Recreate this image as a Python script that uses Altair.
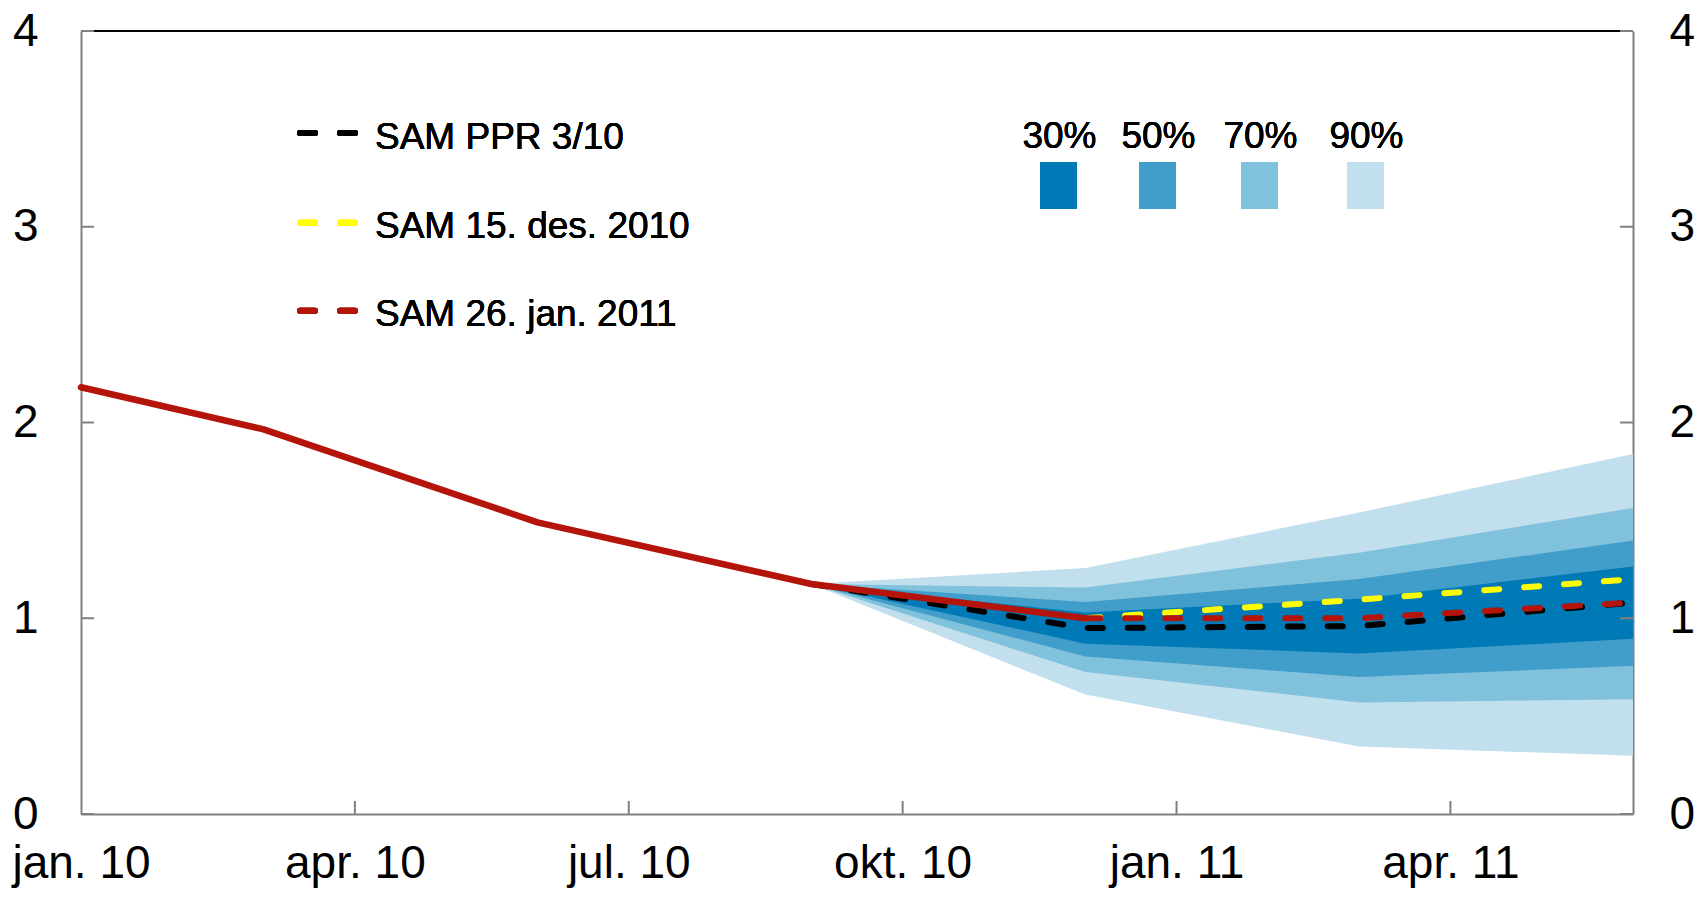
import altair as alt
import pandas as pd

FONT = "Liberation Sans"

# ---------------- data ----------------
x_tick_values = [0, 3, 6, 9, 12, 15]
x_tick_labels = ["jan. 10", "apr. 10", "jul. 10", "okt. 10", "jan. 11", "apr. 11"]
y_tick_values = [0, 1, 2, 3, 4]

hist_month = [0, 2, 5, 8, 11]
hist_value = [2.18, 1.965, 1.49, 1.175, 1.0]

ppr_month = [8, 11, 14, 17]
ppr_value = [1.175, 0.95, 0.96, 1.08]

des_month = [11, 14, 17]
des_value = [1.0, 1.095, 1.2]

jan_month = [11, 14, 17]
jan_value = [1.0, 1.0, 1.08]

fan_month = [8, 11, 14, 17]
fan_lo90 = [1.175, 0.61, 0.345, 0.297]
fan_lo70 = [1.175, 0.725, 0.57, 0.586]
fan_lo50 = [1.175, 0.805, 0.70, 0.757]
fan_lo30 = [1.175, 0.87, 0.82, 0.895]
fan_hi30 = [1.175, 1.03, 1.10, 1.264]
fan_hi50 = [1.175, 1.083, 1.20, 1.397]
fan_hi70 = [1.175, 1.157, 1.335, 1.563]
fan_hi90 = [1.175, 1.257, 1.54, 1.839]

band_labels = ["30%", "50%", "70%", "90%"]
band_colors = ["#007AB6", "#419DC9", "#80C1DB", "#C2DFEE"]

series_labels = ["SAM PPR 3/10", "SAM 15. des. 2010", "SAM 26. jan. 2011"]
series_colors = ["#000000", "#FFFF00", "#B4140A"]

# ---------------- layout ----------------
W, H = 1552, 783
GRAY = "#808080"
TICK = 13
DASH = [15, 25]

label_expr = "[" + ",".join("'%s'" % s for s in x_tick_labels) + "][round(datum.value/3)]"

x_enc = alt.X(
    "month:Q",
    scale=alt.Scale(domain=[0, 17], nice=False, zero=False),
    axis=alt.Axis(
        values=x_tick_values, labelExpr=label_expr, ticks=False, tickSize=0,
        grid=False, title=None, domainColor=GRAY, domainWidth=2,
        labelFont=FONT, labelFontSize=46, labelColor="black",
        labelPadding=49, labelBaseline="middle", labelFlush=False, labelOverlap=False,
    ),
)
y_scale = alt.Scale(domain=[0, 4], nice=False, zero=False)
y_left = lambda f: alt.Y(
    f,
    scale=y_scale,
    axis=alt.Axis(
        values=y_tick_values, ticks=False, tickSize=0, grid=False, title=None,
        domainColor=GRAY, domainWidth=2, labelFont=FONT, labelFontSize=46,
        labelColor="black", labelPadding=43, labelAlign="right",
        labelBaseline="middle", labelFlush=False, labelOverlap=False, format="d",
    ),
)

# fan
fan_rows = []
bands = {
    "90%": (fan_lo90, fan_hi90),
    "70%": (fan_lo70, fan_hi70),
    "50%": (fan_lo50, fan_hi50),
    "30%": (fan_lo30, fan_hi30),
}
for b, (lo, hi) in bands.items():
    for m, l, h in zip(fan_month, lo, hi):
        fan_rows.append({"band": b, "month": m, "lo": l, "hi": h})
fan_df = pd.DataFrame(fan_rows)

layers = []
for b in ["90%", "70%", "50%", "30%"]:
    col = band_colors[band_labels.index(b)]
    layers.append(
        alt.Chart(fan_df).transform_filter(alt.datum.band == b)
        .mark_area(color=col, opacity=1, interpolate="linear")
        .encode(x=x_enc, y=y_left("lo:Q"), y2="hi:Q")
    )

def line_df(ms, vs):
    return pd.DataFrame({"month": ms, "value": vs})

def dashed(ms, vs, color):
    return alt.Chart(line_df(ms, vs)).mark_line(
        color=color, strokeWidth=6, strokeDash=DASH, strokeCap="round", strokeJoin="round"
    ).encode(x=x_enc, y=y_left("value:Q"))

layers.append(dashed(ppr_month, ppr_value, series_colors[0]))
layers.append(dashed(des_month, des_value, series_colors[1]))
layers.append(dashed(jan_month, jan_value, series_colors[2]))
layers.append(
    alt.Chart(line_df(hist_month, hist_value)).mark_line(
        color=series_colors[2], strokeWidth=6.5, strokeCap="round", strokeJoin="round"
    ).encode(x=x_enc, y=y_left("value:Q"))
)

# inward ticks
xt_df = pd.DataFrame({"month": x_tick_values[1:]})
layers.append(
    alt.Chart(xt_df).mark_rule(color=GRAY, strokeWidth=2)
    .encode(x=x_enc, y=alt.value(H), y2=alt.value(H - TICK))
)
yt_df = pd.DataFrame({"v": y_tick_values})
layers.append(
    alt.Chart(yt_df).mark_rule(color=GRAY, strokeWidth=2)
    .encode(y=y_left("v:Q"), x=alt.value(0), x2=alt.value(TICK))
)
# top black frame line
layers.append(
    alt.Chart(yt_df).mark_rule(color="black", strokeWidth=2)
    .encode(x=alt.value(TICK), x2=alt.value(W - TICK), y=alt.value(0))
)

# line legend
leg_y = [102, 191.7, 279.7]
for lab, col, yy in zip(series_labels, series_colors, leg_y):
    layers.append(
        alt.Chart(yt_df).mark_rule(color=col, strokeWidth=6, strokeDash=DASH, strokeCap="round")
        .encode(x=alt.value(219), x2=alt.value(274), y=alt.value(yy))
    )
    layers.append(
        alt.Chart(yt_df).mark_text(
            text=lab, font=FONT, fontSize=37, align="left", baseline="alphabetic", color="black"
        ).encode(x=alt.value(294), y=alt.value(yy + 15.5))
    )

# band legend
sq_x = [959, 1058, 1160, 1266]
for lab, col, sx in zip(band_labels, band_colors, sq_x):
    layers.append(
        alt.Chart(yt_df).mark_rect(color=col)
        .encode(x=alt.value(sx), x2=alt.value(sx + 37), y=alt.value(131), y2=alt.value(178))
    )
    layers.append(
        alt.Chart(yt_df).mark_text(
            text=lab, font=FONT, fontSize=37, align="center", baseline="alphabetic", color="black"
        ).encode(x=alt.value(sx + 19.5), y=alt.value(117.3))
    )

left = alt.layer(*layers)

right = alt.Chart(yt_df).mark_rule(color=GRAY, strokeWidth=2).encode(
    y=alt.Y(
        "v:Q",
        scale=y_scale,
        axis=alt.Axis(
            orient="right", values=y_tick_values, ticks=False, tickSize=0, grid=False,
            title=None, domainColor=GRAY, domainWidth=2, labelFont=FONT, labelFontSize=46,
            labelColor="black", labelPadding=36, labelAlign="left", labelBaseline="middle",
            labelFlush=False, labelOverlap=False, format="d",
        ),
    ),
    x=alt.value(W - TICK),
    x2=alt.value(W),
)

chart = (
    alt.layer(left, right)
    .resolve_scale(y="independent")
    .properties(
        width=W,
        height=H,
        autosize=alt.AutoSizeParams(type="none"),
        padding={"left": 73, "top": 23, "right": 63, "bottom": 75},
        background="white",
    )
    .configure_view(stroke=None)
)

chart.save("out.html", embed_options={"renderer": "svg", "actions": False})
